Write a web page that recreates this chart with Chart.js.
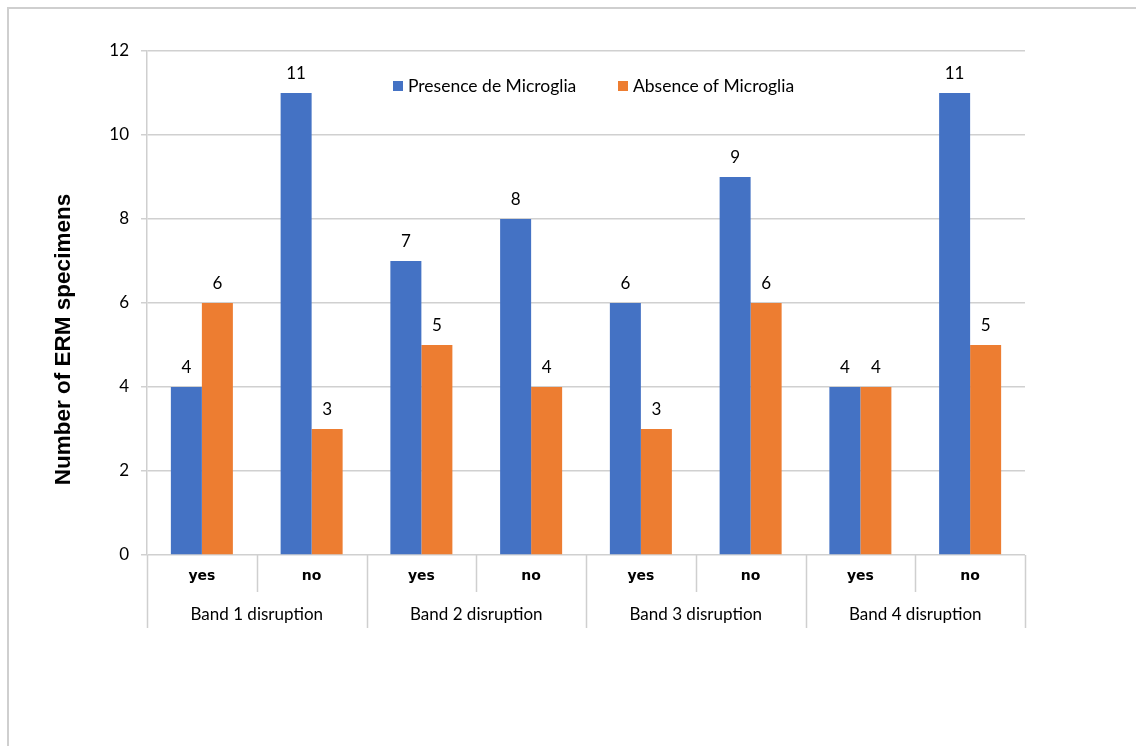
<!DOCTYPE html>
<html>
<head>
<meta charset="utf-8">
<script src="https://cdn.jsdelivr.net/npm/chart.js@4.4.1/dist/chart.umd.min.js"></script>
<style>
  html, body { margin: 0; padding: 0; background: #fff; }
  #wrap { position: relative; width: 1136px; height: 746px; overflow: hidden; }
  #frame { position: absolute; left: 7px; top: 7px; width: 1200px; height: 800px;
           border-top: 2px solid #cfcfcf; border-left: 2px solid #cfcfcf; }
  canvas { position: absolute; left: 0; top: 0; }
</style>
</head>
<body>
<div id="wrap">
  <div id="frame"></div>
  <canvas id="chart" width="1136" height="746"></canvas>
</div>
<script>
const groups = ['Band 1 disruption', 'Band 2 disruption', 'Band 3 disruption', 'Band 4 disruption'];
const subLabels = ['yes', 'no', 'yes', 'no', 'yes', 'no', 'yes', 'no'];
const presence = [4, 11, 7, 8, 6, 9, 4, 11];
const absence = [6, 3, 5, 4, 3, 6, 4, 5];
const seriesNames = ['Presence de Microglia', 'Absence of Microglia'];
const seriesColors = ['#4472C4', '#ED7D31'];
const yTitle = 'Number of ERM specimens';

const labelFont = 'Lato, "Open Sans", sans-serif';

// valeurs au-dessus des barres
const valueLabels = {
    id: 'valueLabels',
    afterDatasetsDraw(chart) {
        const ctx = chart.ctx;
        ctx.save();
        ctx.font = '17px ' + labelFont;
        ctx.fillStyle = '#000';
        ctx.textAlign = 'center';
        ctx.textBaseline = 'middle';
        chart.data.datasets.forEach((ds, d) => {
            chart.getDatasetMeta(d).data.forEach((bar, i) => {
                ctx.fillText(String(ds.data[i]), bar.x, bar.y - 19);
            });
        });
        ctx.restore();
    }
};

// axe x a deux niveaux + titre de l'axe y
const groupedAxis = {
    id: 'groupedAxis',
    afterDraw(chart) {
        const ctx = chart.ctx;
        const x = chart.scales.x;
        const area = chart.chartArea;
        const n = subLabels.length;
        const half = (x.getPixelForValue(1) - x.getPixelForValue(0)) / 2;
        ctx.save();
        ctx.strokeStyle = '#cfcfcf';
        ctx.lineWidth = 1.5;
        for (let i = 0; i <= n; i++) {
            const px = i < n ? x.getPixelForValue(i) - half : x.getPixelForValue(n - 1) + half;
            const yEnd = (i % 2 === 0) ? area.bottom + 73 : area.bottom + 37;
            ctx.beginPath();
            ctx.moveTo(Math.round(px) + 0.5, area.bottom);
            ctx.lineTo(Math.round(px) + 0.5, yEnd);
            ctx.stroke();
        }
        ctx.fillStyle = '#000';
        ctx.textAlign = 'center';
        ctx.textBaseline = 'middle';
        ctx.font = 'bold 14px "DejaVu Sans", sans-serif';
        subLabels.forEach((lab, i) => {
            ctx.fillText(lab, x.getPixelForValue(i), area.bottom + 21);
        });
        ctx.font = '17px ' + labelFont;
        groups.forEach((g, j) => {
            const cx = (x.getPixelForValue(2 * j) + x.getPixelForValue(2 * j + 1)) / 2;
            ctx.fillText(g, cx, area.bottom + 60);
        });

        // titre vertical, centré sur le graphique + étiquettes
        ctx.translate(64, (area.top + area.bottom + 73) / 2);
        ctx.rotate(-Math.PI / 2);
        ctx.font = 'bold 22.5px "Liberation Sans", Arial, sans-serif';
        ctx.fillText(yTitle, 0, 0);
        ctx.restore();
    }
};

// legende dans la zone du graphique
const innerLegend = {
    id: 'innerLegend',
    afterDraw(chart) {
        const ctx = chart.ctx;
        const starts = [393, 618];
        ctx.save();
        ctx.font = '17.5px ' + labelFont;
        ctx.textBaseline = 'middle';
        ctx.textAlign = 'left';
        chart.data.datasets.forEach((ds, d) => {
            ctx.fillStyle = ds.backgroundColor;
            ctx.fillRect(starts[d], 81, 10, 10);
            ctx.fillStyle = '#000';
            ctx.fillText(ds.label, starts[d] + 15, 86);
        });
        ctx.restore();
    }
};

new Chart(document.getElementById('chart').getContext('2d'), {
    type: 'bar',
    data: {
        labels: subLabels,
        datasets: [{
            label: seriesNames[0],
            data: presence,
            backgroundColor: seriesColors[0],
            categoryPercentage: 0.565,
            barPercentage: 1.0
        }, {
            label: seriesNames[1],
            data: absence,
            backgroundColor: seriesColors[1],
            categoryPercentage: 0.565,
            barPercentage: 1.0
        }]
    },
    options: {
        responsive: false,
        animation: false,
        devicePixelRatio: 1,
        layout: {
            padding: { left: 0, right: 111, top: 51, bottom: 191 }
        },
        plugins: {
            legend: { display: false },
            tooltip: { enabled: false }
        },
        scales: {
            x: {
                display: false
            },
            y: {
                min: 0,
                max: 12,
                ticks: {
                    stepSize: 2,
                    padding: 12,
                    color: '#000',
                    font: { family: labelFont, size: 17 }
                },
                grid: {
                    color: '#d0d0d0',
                    lineWidth: 1.5,
                    tickLength: 6
                },
                border: { color: '#cfcfcf', width: 1.5 },
                afterFit(scale) {
                    scale.width = 147;
                }
            }
        }
    },
    plugins: [valueLabels, groupedAxis, innerLegend]
});
</script>
</body>
</html>
